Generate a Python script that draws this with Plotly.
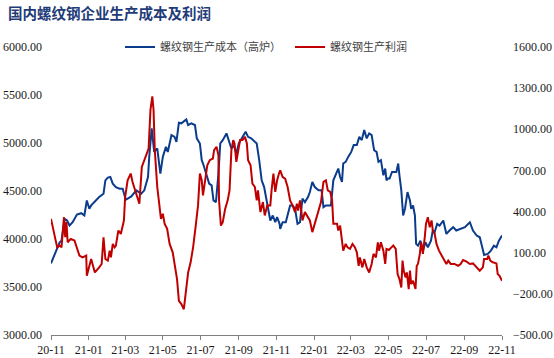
import plotly.graph_objects as go

# 螺纹钢生产成本（高炉）  (left axis, 元/吨)
cost_dates = [
    "2020-11-01", "2020-11-09", "2020-11-15", "2020-11-18", "2020-11-23", "2020-11-27",
    "2020-12-01", "2020-12-06", "2020-12-13", "2020-12-20", "2020-12-25", "2020-12-29",
    "2021-01-02", "2021-01-05", "2021-01-10", "2021-01-18", "2021-01-25", "2021-01-28",
    "2021-02-01", "2021-02-05", "2021-02-09", "2021-02-14", "2021-02-20", "2021-02-25",
    "2021-03-02", "2021-03-11", "2021-03-19", "2021-03-27", "2021-04-01", "2021-04-07",
    "2021-04-09", "2021-04-13", "2021-04-17", "2021-04-22", "2021-04-27", "2021-05-01",
    "2021-05-06", "2021-05-09", "2021-05-15", "2021-05-20", "2021-05-23", "2021-05-27",
    "2021-05-31", "2021-06-04", "2021-06-08", "2021-06-11", "2021-06-16", "2021-06-22",
    "2021-06-25", "2021-06-30", "2021-07-03", "2021-07-06", "2021-07-11", "2021-07-15",
    "2021-07-19", "2021-07-22", "2021-07-26", "2021-07-30", "2021-08-02", "2021-08-06",
    "2021-08-12", "2021-08-16", "2021-08-20", "2021-08-24", "2021-08-28", "2021-09-01",
    "2021-09-07", "2021-09-12", "2021-09-16", "2021-09-21", "2021-09-27", "2021-09-30",
    "2021-10-04", "2021-10-08", "2021-10-12", "2021-10-16", "2021-10-22", "2021-10-26",
    "2021-10-30", "2021-11-02", "2021-11-06", "2021-11-07", "2021-11-11", "2021-11-16",
    "2021-11-20", "2021-11-23", "2021-11-27", "2021-12-01", "2021-12-05", "2021-12-09",
    "2021-12-13", "2021-12-17", "2021-12-22", "2021-12-25", "2021-12-29", "2022-01-02",
    "2022-01-08", "2022-01-13", "2022-01-16", "2022-01-20", "2022-01-24", "2022-01-28",
    "2022-02-01", "2022-02-05", "2022-02-09", "2022-02-12", "2022-02-15", "2022-02-17",
    "2022-02-21", "2022-02-25", "2022-03-02", "2022-03-06", "2022-03-11", "2022-03-15",
    "2022-03-19", "2022-03-23", "2022-03-27", "2022-03-31", "2022-04-04", "2022-04-08",
    "2022-04-12", "2022-04-15", "2022-04-19", "2022-04-23", "2022-04-26", "2022-04-28",
    "2022-04-30", "2022-05-03", "2022-05-07", "2022-05-14", "2022-05-17", "2022-05-19",
    "2022-05-22", "2022-05-25", "2022-05-28", "2022-06-01", "2022-06-05", "2022-06-07",
    "2022-06-10", "2022-06-13", "2022-06-15", "2022-06-18", "2022-06-22", "2022-06-26",
    "2022-06-30", "2022-07-04", "2022-07-09", "2022-07-12", "2022-07-15", "2022-07-19",
    "2022-07-23", "2022-07-29", "2022-07-31", "2022-08-03", "2022-08-08", "2022-08-14",
    "2022-08-19", "2022-08-25", "2022-09-02", "2022-09-10", "2022-09-15", "2022-09-21",
    "2022-09-26", "2022-09-30", "2022-10-03", "2022-10-09", "2022-10-14", "2022-10-19",
    "2022-10-23", "2022-10-27", "2022-11-01",
]
cost_values = [
    3746, 3879, 3966, 3983, 4210, 4193,
    4140, 4175, 4255, 4269, 4245, 4402,
    4315, 4350, 4384, 4437, 4472, 4611,
    4640, 4646, 4577, 4541, 4524, 4524,
    4409, 4444, 4507, 4472, 4507, 4646,
    4855, 5152, 4907, 4943, 4681, 4855,
    4960, 4907, 5082, 5064, 5012, 5211,
    5205, 5222, 5246, 5187, 5205, 5187,
    5048, 4995, 4821, 4768, 4646, 4577,
    4559, 4402, 4384, 4681, 4995, 5030,
    5100, 5030, 4943, 4978, 4891, 4995,
    5064, 5117, 5064, 5048, 5012, 4995,
    4821, 4611, 4541, 4384, 4193, 4245,
    4175, 4228, 4158, 4106, 4175, 4175,
    4263, 4350, 4350, 4315, 4158, 4175,
    4420, 4384, 4437, 4489, 4594, 4541,
    4507, 4507, 4332, 4350, 4350, 4350,
    4611, 4664, 4734, 4646, 4594, 4786,
    4803, 4855, 4907, 4978, 4978, 5064,
    5030, 5135, 5048, 5100, 5082, 4925,
    4907, 4803, 4821, 4664, 4734, 4611,
    4629, 4629, 4698, 4698, 4786, 4664,
    4507, 4245, 4315, 4489, 4402, 4315,
    4350, 4245, 3949, 3931, 3983, 3879,
    3966, 3914, 3983, 4088, 4070, 4158,
    4140, 4193, 4123, 4053, 4088, 4123,
    4088, 4106, 4123, 4175, 4088, 4036,
    4018, 3914, 3834, 3844, 3879, 3931,
    3914, 3983, 4036,
]

# 螺纹钢生产利润  (right axis, 元/吨)
profit_dates = [
    "2020-11-01", "2020-11-04", "2020-11-08", "2020-11-11", "2020-11-15", "2020-11-18",
    "2020-11-22", "2020-11-24", "2020-11-26", "2020-11-28", "2020-12-03", "2020-12-09",
    "2020-12-13", "2020-12-17", "2020-12-22", "2020-12-28", "2020-12-29", "2021-01-02",
    "2021-01-05", "2021-01-08", "2021-01-11", "2021-01-18", "2021-01-22", "2021-01-25",
    "2021-01-28", "2021-02-01", "2021-02-04", "2021-02-06", "2021-02-09", "2021-02-12",
    "2021-02-14", "2021-02-18", "2021-02-22", "2021-02-27", "2021-03-01", "2021-03-05",
    "2021-03-10", "2021-03-13", "2021-03-17", "2021-03-21", "2021-03-24", "2021-03-28",
    "2021-04-01", "2021-04-05", "2021-04-08", "2021-04-11", "2021-04-14", "2021-04-16",
    "2021-04-18", "2021-04-22", "2021-04-26", "2021-04-28", "2021-05-01", "2021-05-04",
    "2021-05-08", "2021-05-12", "2021-05-17", "2021-05-20", "2021-05-24", "2021-05-27",
    "2021-05-31", "2021-06-04", "2021-06-07", "2021-06-11", "2021-06-15", "2021-06-19",
    "2021-06-23", "2021-06-27", "2021-06-30", "2021-07-03", "2021-07-05", "2021-07-08",
    "2021-07-12", "2021-07-16", "2021-07-21", "2021-07-23", "2021-07-27", "2021-07-30",
    "2021-07-31", "2021-08-03", "2021-08-06", "2021-08-10", "2021-08-14", "2021-08-17",
    "2021-08-20", "2021-08-23", "2021-08-25", "2021-08-28", "2021-08-31", "2021-09-03",
    "2021-09-07", "2021-09-11", "2021-09-14", "2021-09-16", "2021-09-20", "2021-09-23",
    "2021-09-27", "2021-09-30", "2021-10-02", "2021-10-06", "2021-10-10", "2021-10-13",
    "2021-10-17", "2021-10-22", "2021-10-24", "2021-10-27", "2021-10-30", "2021-11-02",
    "2021-11-05", "2021-11-07", "2021-11-11", "2021-11-15", "2021-11-19", "2021-11-23",
    "2021-11-27", "2021-12-01", "2021-12-04", "2021-12-06", "2021-12-09", "2021-12-13",
    "2021-12-17", "2021-12-22", "2021-12-25", "2021-12-29", "2022-01-02", "2022-01-08",
    "2022-01-12", "2022-01-16", "2022-01-20", "2022-01-23", "2022-01-27", "2022-01-30",
    "2022-02-01", "2022-02-07", "2022-02-09", "2022-02-12", "2022-02-15", "2022-02-17",
    "2022-02-21", "2022-02-24", "2022-02-28", "2022-03-04", "2022-03-08", "2022-03-11",
    "2022-03-14", "2022-03-16", "2022-03-20", "2022-03-23", "2022-03-27", "2022-03-31",
    "2022-04-04", "2022-04-07", "2022-04-11", "2022-04-14", "2022-04-16", "2022-04-19",
    "2022-04-23", "2022-04-26", "2022-04-28", "2022-05-02", "2022-05-06", "2022-05-09",
    "2022-05-13", "2022-05-16", "2022-05-19", "2022-05-22", "2022-05-24", "2022-05-26",
    "2022-05-29", "2022-05-31", "2022-06-03", "2022-06-05", "2022-06-07", "2022-06-10",
    "2022-06-14", "2022-06-16", "2022-06-18", "2022-06-21", "2022-06-23", "2022-06-26",
    "2022-06-29", "2022-07-01", "2022-07-04", "2022-07-07", "2022-07-10", "2022-07-12",
    "2022-07-15", "2022-07-18", "2022-07-22", "2022-07-26", "2022-07-30", "2022-08-03",
    "2022-08-06", "2022-08-10", "2022-08-16", "2022-08-22", "2022-08-26", "2022-08-30",
    "2022-09-04", "2022-09-10", "2022-09-15", "2022-09-21", "2022-09-26", "2022-10-01",
    "2022-10-03", "2022-10-08", "2022-10-10", "2022-10-13", "2022-10-17", "2022-10-23",
    "2022-10-25", "2022-10-28", "2022-11-01",
]
profit_values = [
    347, 274, 201, 139, 152, 139,
    359, 213, 323, 176, 201, 189,
    128, 79, 66, 79, -68, -7,
    54, 5, -44, -7, 18, 213,
    54, 42, 115, 66, 164, 139,
    152, 262, 237, 335, 506, 628,
    677, 616, 555, 506, 457, 725,
    775, 835, 860, 1141, 1240, 1141,
    848, 579, 432, 347, 384, 310,
    274, 164, 103, 30, -92, -251,
    -275, -312, -202, -44, 30, 139,
    286, 445, 677, 628, 518, 616,
    738, 775, 787, 848, 872, 811,
    482, 298, 323, 421, 482, 555,
    848, 921, 897, 762, 848, 921,
    921, 945, 897, 775, 738, 604,
    579, 482, 555, 396, 469, 372,
    445, 445, 555, 677, 543, 628,
    677, 701, 652, 640, 579, 482,
    445, 396, 457, 408, 482, 335,
    396, 359, 335, 250, 311, 421,
    469, 616, 628, 555, 543, 482,
    311, 311, 262, 298, 189, 115,
    164, 139, 128, 164, 139, 103,
    5, 66, -7, 54, -7, -44,
    18, 91, 66, 176, 115, 176,
    115, 18, 128, 120, 139, 152,
    128, -56, -92, -154, 42, -31,
    -80, -44, -165, -31, -129, -105,
    -165, 5, 18, 91, 176, 91,
    213, 311, 359, 286, 335, 262,
    237, 164, 115, 79, 54, 18,
    42, 18, 18, 5, 18, 47,
    37, 18, 22, -7, -31, -7,
    54, 54, 79, 42, 30, 22,
    -56, -68, -105,
]

x_tick_values = [
    "2020-11-01", "2021-01-01", "2021-03-01", "2021-05-01", "2021-07-01", "2021-09-01",
    "2021-11-01", "2022-01-01", "2022-03-01", "2022-05-01", "2022-07-01", "2022-09-01",
    "2022-11-01",
]
x_tick_labels = [
    "20-11", "21-01", "21-03", "21-05", "21-07", "21-09", "21-11",
    "22-01", "22-03", "22-05", "22-07", "22-09", "22-11",
]
left_ticks = [3000, 3500, 4000, 4500, 5000, 5500, 6000]
right_ticks = [-500, -200, 100, 400, 700, 1000, 1300, 1600]

BLUE = "#0B3C8C"
RED = "#C00000"
NUM_FONT = dict(family="Liberation Serif, Times New Roman, serif", size=12, color="#1a1a1a")

fig = go.Figure()
fig.add_trace(go.Scatter(
    x=cost_dates, y=cost_values, name="螺纹钢生产成本（高炉）",
    mode="lines", line=dict(color=BLUE, width=2), yaxis="y",
))
fig.add_trace(go.Scatter(
    x=profit_dates, y=profit_values, name="螺纹钢生产利润",
    mode="lines", line=dict(color=RED, width=2), yaxis="y2",
))

fig.update_layout(
    width=554, height=358,
    margin=dict(l=51, r=52, t=47, b=23, autoexpand=False),
    paper_bgcolor="white", plot_bgcolor="white",
    title=dict(
        text="<b>国内螺纹钢企业生产成本及利润</b>",
        x=8 / 554, xanchor="left", xref="container",
        y=1 - 14 / 358, yanchor="middle", yref="container",
        font=dict(family="Noto Sans CJK SC", size=14.5, color="#1F3C78"),
    ),
    showlegend=True,
    legend=dict(
        orientation="h", x=0.153, xanchor="left", y=1.0, yanchor="middle",
        font=dict(family="Noto Sans CJK SC", size=11, color="#404040"),
        bgcolor="rgba(0,0,0,0)", itemwidth=30, entrywidth=125,
    ),
    xaxis=dict(
        type="date",
        range=["2020-11-01", "2022-11-01"],
        tickmode="array", tickvals=x_tick_values, ticktext=x_tick_labels,
        showgrid=False, zeroline=False,
        showline=True, linecolor="#808080", linewidth=1,
        ticks="outside", ticklen=4, tickcolor="#808080",
        tickfont=NUM_FONT,
    ),
    yaxis=dict(
        range=[3000, 6000], tickmode="array", tickvals=left_ticks,
        tickformat=".2f", showgrid=False, zeroline=False, showline=False,
        ticks="", ticklabelstandoff=8, tickfont=NUM_FONT,
    ),
    yaxis2=dict(
        range=[-500, 1600], tickmode="array", tickvals=right_ticks,
        tickformat=".2f", overlaying="y", side="right",
        showgrid=False, zeroline=False, showline=False,
        ticks="", ticklabelstandoff=10, tickfont=NUM_FONT,
    ),
)

# remove the browser's default 8px body margin so the figure sits at the page origin
fig.write_html(
    "out.html",
    config={"displayModeBar": False},
    post_script="document.body.style.margin='0';",
)
